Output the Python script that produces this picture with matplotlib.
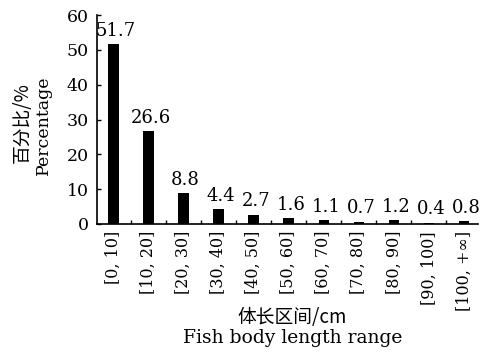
import matplotlib
matplotlib.use("Agg")
import matplotlib.pyplot as plt
import numpy as np

categories = ["[0, 10]", "[10, 20]", "[20, 30]", "[30, 40]", "[40, 50]", "[50, 60]",
              "[60, 70]", "[70, 80]", "[80, 90]", "[90, 100]", "[100, +∞]"]
values = [51.7, 26.6, 8.8, 4.4, 2.7, 1.6, 1.1, 0.7, 1.2, 0.4, 0.8]
value_labels = ["51.7", "26.6", "8.8", "4.4", "2.7", "1.6", "1.1", "0.7", "1.2", "0.4", "0.8"]
yticks = [0, 10, 20, 30, 40, 50, 60]

SERIF = ["DejaVu Serif", "Noto Sans CJK SC", "DejaVu Sans"]
CJK = ["Noto Sans CJK SC", "DejaVu Serif"]

fig = plt.figure(figsize=(4.8, 3.52), dpi=100)
ax = fig.add_axes([97/480, 1-224/352, (478-97)/480, (224-15)/352])

x = np.arange(len(categories))
ax.bar(x, values, width=0.3, color="black")
for xi, v, s in zip(x, values, value_labels):
    ax.annotate(s, (xi, v), xytext=(1.5, 3), textcoords="offset points",
                ha="center", va="bottom", fontsize=13, family=SERIF)

ax.set_xlim(-0.47, 10.4)
ax.set_ylim(0, 60)
ax.set_yticks(yticks)
ax.set_yticklabels([str(t) for t in yticks], family=SERIF, fontsize=12.5)
ax.set_xticks(x)
ax.set_xticklabels(categories, rotation=90, family=SERIF, fontsize=11.5, va="top")
ax.set_xticks(x[:-1] + 0.5, minor=True)
ax.tick_params(axis="x", which="major", length=0, pad=5)
ax.tick_params(axis="x", which="minor", direction="in", length=3, width=1)
ax.tick_params(axis="y", direction="in", length=3, width=1, pad=6)
for side in ["top", "right"]:
    ax.spines[side].set_visible(False)
for side in ["left", "bottom"]:
    ax.spines[side].set_linewidth(1.2)

fig.text(22/480, 1-123/352, "百分比/%", rotation=90, ha="center", va="center",
         fontsize=13.5, family=CJK)
fig.text(43/480, 1-125/352, "Percentage", rotation=90, ha="center", va="center",
         fontsize=12.5, family=SERIF)
fig.text(292/480, 1-318/352, "体长区间/cm", ha="center", va="center",
         fontsize=13.5, family=CJK)
fig.text(293/480, 1-338/352, "Fish body length range", ha="center", va="center",
         fontsize=13.5, family=SERIF)

fig.savefig("out.png", dpi=100)
